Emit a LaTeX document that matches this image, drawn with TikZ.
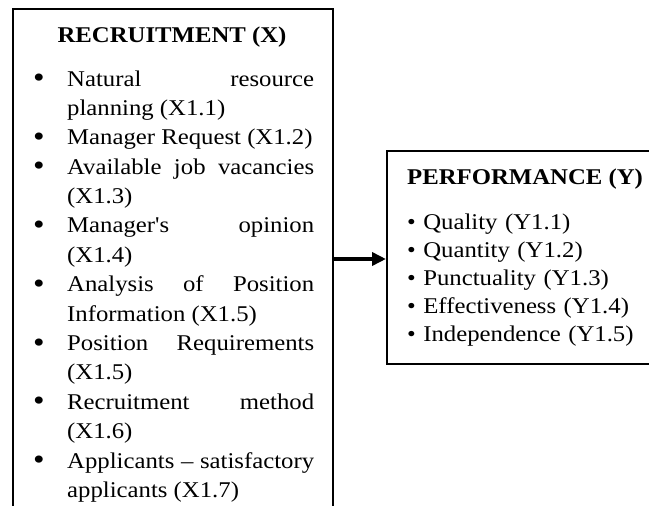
\documentclass[tikz,border=0pt]{standalone}
\usepackage{fontspec}
\setmainfont{Liberation Serif}[FakeStretch=1.1]
\newfontfamily\rawserif{Liberation Serif}[FakeStretch=1.1, Ligatures=TeXOff]
\usetikzlibrary{arrows.meta}

% straight apostrophe
\newcommand\sq{{\rawserif'}}
% large list bullet used in the recruitment box
\newcommand\bigbul{\raisebox{-1.5pt}{\fontsize{30}{30}\selectfont •}}
% one bulleted, justified list entry with a hanging indent
\newcommand\bitem[1]{\hangindent=47pt\hangafter=1\relax
  \makebox[47pt][l]{\hspace{13pt}\bigbul}#1\par}
% settings for the justified list: no hyphenation, wide spaces allowed
\newcommand\listsetup{\hyphenpenalty=10000\relax\exhyphenpenalty=10000\relax
  \tolerance=10000\relax\hbadness=10000\relax\emergencystretch=0pt\relax}

\tikzset{
  frame/.style={draw, line width=1.8pt, inner sep=0pt, anchor=north west},
  boxtitle/.style={inner sep=0pt, font=\fontsize{22.5}{27}\selectfont\bfseries},
  leftlist/.style={inner sep=0pt, anchor=base west, text width=294pt, align=justify,
    font=\fontsize{22.5}{29.4}\selectfont},
  rightlist/.style={inner sep=0pt, anchor=base west, text width=240pt, align=left,
    font=\fontsize{22.5}{28}\selectfont},
  link/.style={line width=3.5pt, -{Triangle[length=14pt,width=13pt]}}
}

\begin{document}
\begin{tikzpicture}[x=1pt,y=1pt]
  \useasboundingbox (0,0) rectangle (649,-506);
  \clip (0,0) rectangle (649,-506);

  % independent variable box (runs past the lower edge)
  \node[frame, minimum width=320pt, minimum height=530pt] (rec) at (12,-8) {};
  \node[boxtitle, anchor=base] (rectitle) at (172,-42.5) {RECRUITMENT (X)};
  \node[leftlist] (reclist) at (20,-86) {\listsetup%
    \bitem{Natural resource planning (X1.1)}%
    \bitem{Manager Request (X1.2)}%
    \bitem{Available job vacancies (X1.3)}%
    \bitem{Manager\sq s opinion (X1.4)}%
    \bitem{Analysis of Position Information (X1.5)}%
    \bitem{Position Requirements (X1.5)}%
    \bitem{Recruitment method (X1.6)}%
    \bitem{Applicants – satisfactory applicants (X1.7)}};

  % dependent variable box (runs past the right edge)
  \node[frame, minimum width=266pt, minimum height=213pt] (perf) at (386,-150) {};
  \node[boxtitle, anchor=base west] (perftitle) at (407,-184) {PERFORMANCE (Y)};
  \node[rightlist] (perflist) at (407,-229) {%
    • Quality (Y1.1)\\
    • Quantity (Y1.2)\\
    • Punctuality (Y1.3)\\
    • Effectiveness (Y1.4)\\
    • Independence (Y1.5)};

  % influence arrow
  \coordinate (arr) at (0,-259);
  \draw[link] (rec.east |- arr) -- (perf.west |- arr);
\end{tikzpicture}
\end{document}
